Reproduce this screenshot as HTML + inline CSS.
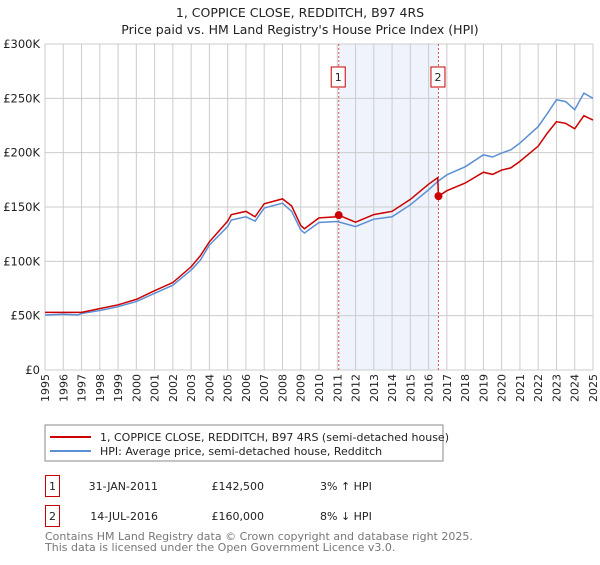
<!DOCTYPE html>
<html><head><meta charset="utf-8"><style>
body{margin:0;background:#fff;font-family:"Liberation Sans","DejaVu Sans",sans-serif;}
svg text{font-family:"DejaVu Sans","Liberation Sans",sans-serif;}
</style></head><body>
<svg id="c" width="600" height="560" xmlns="http://www.w3.org/2000/svg">
<text x="300" y="17" text-anchor="middle" font-size="12.5" fill="#222">1, COPPICE CLOSE, REDDITCH, B97 4RS</text>
<text x="300" y="34" text-anchor="middle" font-size="12.5" fill="#222">Price paid vs. HM Land Registry's House Price Index (HPI)</text>
<g id="plot"></g>
<rect x="45" y="425" width="398" height="36" fill="none" stroke="#888"/>
<line x1="50" y1="437" x2="91" y2="437" stroke="#cc0000" stroke-width="2"/>
<text x="100" y="441" font-size="11" fill="#222">1, COPPICE CLOSE, REDDITCH, B97 4RS (semi-detached house)</text>
<line x1="50" y1="451" x2="91" y2="451" stroke="#5b8fd4" stroke-width="2"/>
<text x="100" y="455" font-size="11" fill="#222">HPI: Average price, semi-detached house, Redditch</text>
<g>
<rect x="45.5" y="475.5" width="14" height="21" fill="none" stroke="#cc0000"/>
<text x="52.5" y="490" text-anchor="middle" font-size="11" fill="#222">1</text>
<text x="158" y="490" text-anchor="end" font-size="11" fill="#222">31-JAN-2011</text>
<text x="264" y="490" text-anchor="end" font-size="11" fill="#222">£142,500</text>
<text x="320" y="490" font-size="11" fill="#222">3% ↑ HPI</text>
</g>
<g>
<rect x="45.5" y="505.5" width="14" height="21" fill="none" stroke="#cc0000"/>
<text x="52.5" y="520" text-anchor="middle" font-size="11" fill="#222">2</text>
<text x="158" y="520" text-anchor="end" font-size="11" fill="#222">14-JUL-2016</text>
<text x="264" y="520" text-anchor="end" font-size="11" fill="#222">£160,000</text>
<text x="320" y="520" font-size="11" fill="#222">8% ↓ HPI</text>
</g>
<text x="45" y="540" font-size="11" fill="#777">Contains HM Land Registry data © Crown copyright and database right 2025.</text>
<text x="45" y="551" font-size="11" fill="#777">This data is licensed under the Open Government Licence v3.0.</text>
</svg>
<script>
const hpiYears=[1995,1996,1996.8,1997,1998,1999,2000,2001,2002,2003,2003.5,2004,2005,2005.2,2006,2006.5,2007,2008,2008.5,2009,2009.2,2010,2011,2012,2013,2014,2015,2016,2016.5,2017,2018,2019,2019.5,2020,2020.5,2021,2022,2022.5,2023,2023.5,2024,2024.5,2025];
const hpiValues=[50.6,51.3,50.7,52,54.7,58.3,63,70.6,78,92,101,115,132,138,141,137,149,153.5,146,129,126,135.7,136.6,132,138.8,141,152,165.8,173.5,179.6,187,198,196,199.6,202.6,208.8,224,236,248.7,247,239.5,254.8,250];
const redYears=[1995,1996,1997,1998,1999,2000,2001,2002,2003,2003.5,2004,2005,2005.2,2006,2006.5,2007,2008,2008.5,2009,2009.2,2010,2011,2011.08,2012,2013,2014,2015,2016,2016.5,2016.54,2017,2018,2019,2019.5,2020,2020.5,2021,2022,2022.5,2023,2023.5,2024,2024.5,2025];
const redValues=[53,53,53,56.5,60,65,73,80.5,95,105,118,137,143,146,141,153,157.5,151,133,130,140,141,142.5,136,143,146,157,171,177,160,165,172,182,180,184,186,192,206,218,228.5,227,222,234,230];
const saleYears=[2011.08,2016.54];
const saleValues=[142.5,160];
const saleLabels=["1","2"];
const yTicks=[0,50,100,150,200,250,300];
const yTickLabels=["£0","£50K","£100K","£150K","£200K","£250K","£300K"];
const xTicks=[1995,1996,1997,1998,1999,2000,2001,2002,2003,2004,2005,2006,2007,2008,2009,2010,2011,2012,2013,2014,2015,2016,2017,2018,2019,2020,2021,2022,2023,2024,2025];

const L=45,R=593,T=44,B=370;
const xs=y=>L+(y-1995)/30*(R-L);
const ys=v=>B-v/300*(B-T);
const NS="http://www.w3.org/2000/svg";
const g=document.getElementById('plot');
function mk(t,a){const e=document.createElementNS(NS,t);for(const k in a)e.setAttribute(k,a[k]);g.appendChild(e);return e;}
const shade=mk('rect',{x:xs(saleYears[0]),y:T,width:xs(saleYears[1])-xs(saleYears[0]),height:B-T,fill:'#eef3fc'});


xTicks.forEach(t=>{
  const l=mk('line',{x1:xs(t),x2:xs(t),y1:T,y2:B,stroke:'#ccc'});
  
  
  const px=xs(t)+4, py=B+4;
  const tx=mk('text',{x:px,y:py,'text-anchor':'end','font-size':'11',fill:'#222',transform:'rotate(-90 '+px+' '+py+')'});
  tx.textContent=t;
  
  
});
yTicks.forEach((t,i)=>{
  const l=mk('line',{x1:L,x2:R,y1:ys(t),y2:ys(t),stroke:'#ccc'});
  
  
  const tx=mk('text',{x:L-5,y:ys(t)+4,'text-anchor':'end','font-size':'11.5',fill:'#222'});
  tx.textContent=yTickLabels[i];
  
  
});
saleYears.forEach((s,i)=>{
  const l=mk('line',{x1:xs(s),x2:xs(s),y1:T,y2:B,stroke:'#e05050','stroke-dasharray':'2,2'});
  
  
  const b=mk('rect',{x:xs(s)-7.5,y:67,width:14,height:20,fill:'#fff',stroke:'#cc0000'});
  
  
  const tx=mk('text',{x:xs(s)-0.5,y:81,'text-anchor':'middle','font-size':'11',fill:'#222'});
  tx.textContent=saleLabels[i];
  
  
});
const hp=mk('polyline',{points:hpiYears.map((y,i)=>xs(y)+','+ys(hpiValues[i])).join(' '),fill:'none',stroke:'#5b8fd4','stroke-width':'1.5'});


const rp=mk('polyline',{points:redYears.map((y,i)=>xs(y)+','+ys(redValues[i])).join(' '),fill:'none',stroke:'#cc0000','stroke-width':'1.5'});


saleYears.forEach((s,i)=>{
  const c=mk('circle',{cx:xs(s),cy:ys(saleValues[i]),r:4,fill:'#cc0000'});
  
  
});
</script>
</body></html>
